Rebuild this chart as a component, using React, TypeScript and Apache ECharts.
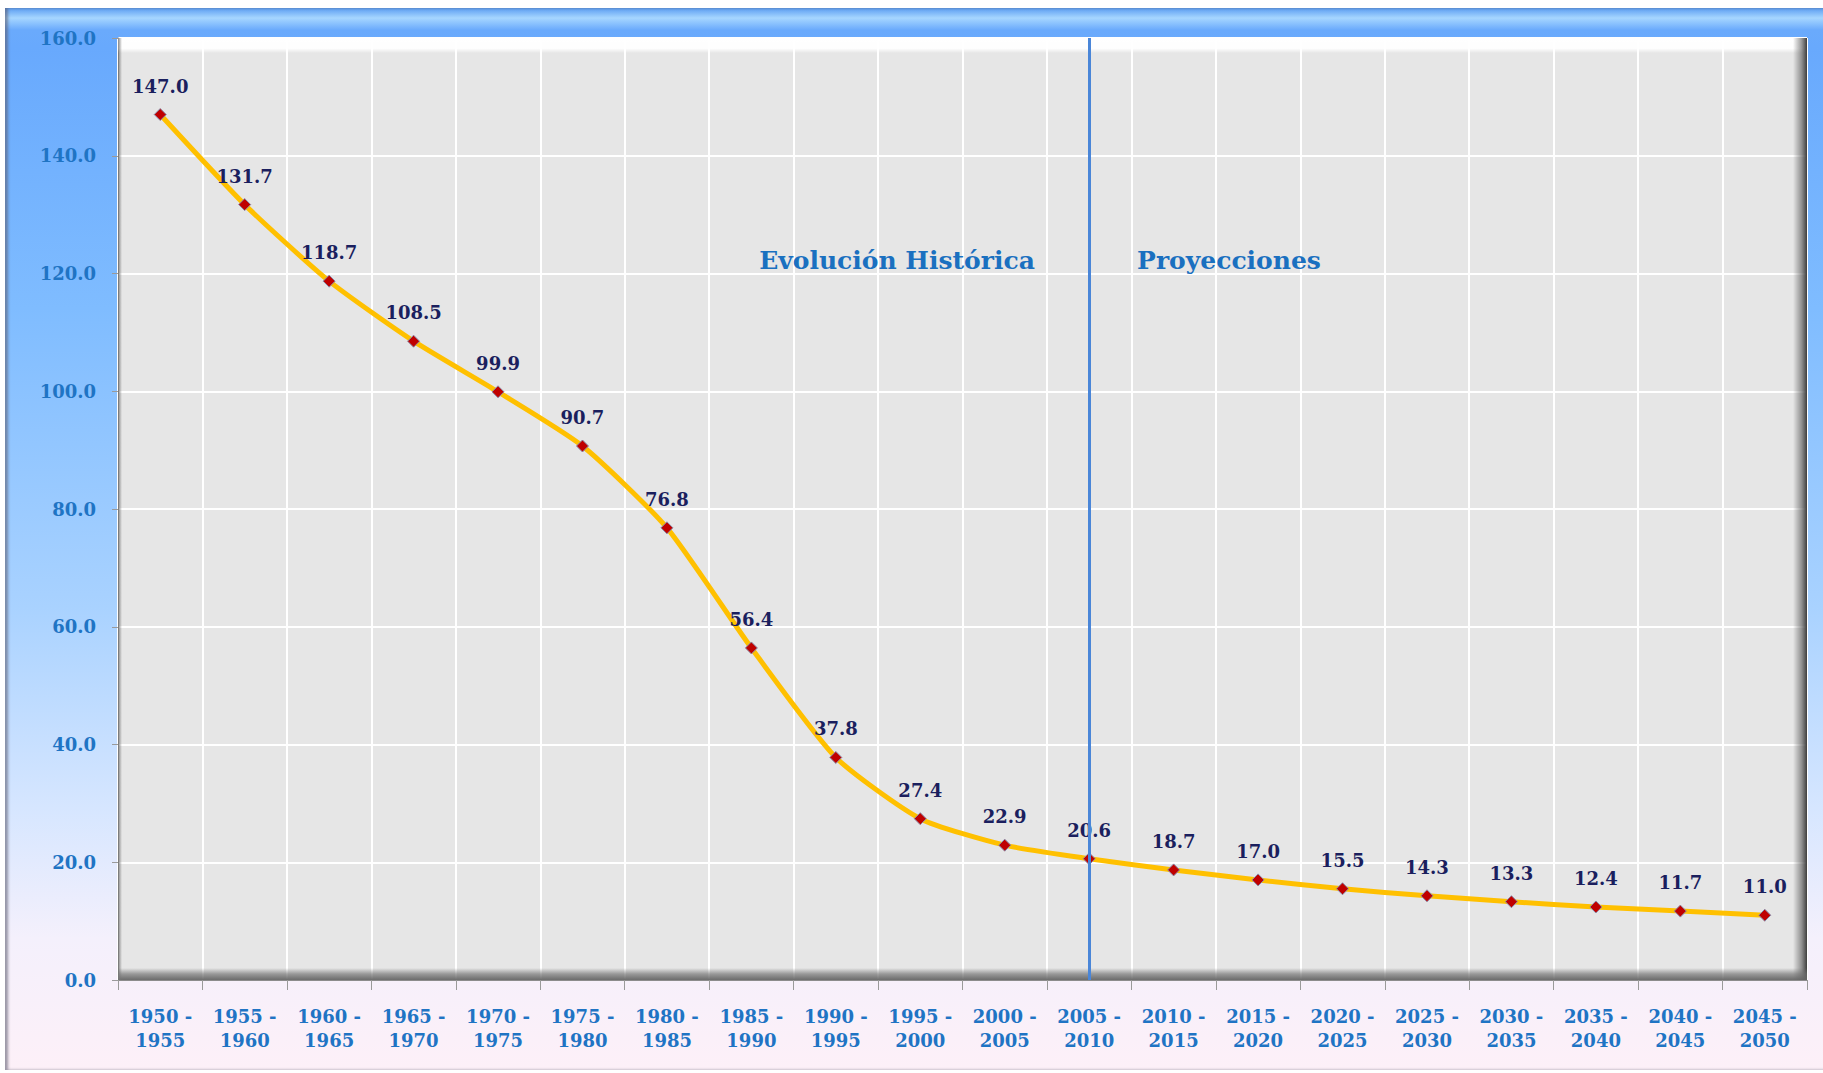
import React, { useEffect, useRef } from "react";
import * as echarts from "echarts";

const categories: string[] = [
  "1950 -\n1955", "1955 -\n1960", "1960 -\n1965", "1965 -\n1970", "1970 -\n1975",
  "1975 -\n1980", "1980 -\n1985", "1985 -\n1990", "1990 -\n1995", "1995 -\n2000",
  "2000 -\n2005", "2005 -\n2010", "2010 -\n2015", "2015 -\n2020", "2020 -\n2025",
  "2025 -\n2030", "2030 -\n2035", "2035 -\n2040", "2040 -\n2045", "2045 -\n2050",
];

const values: number[] = [
  147.0, 131.7, 118.7, 108.5, 99.9, 90.7, 76.8, 56.4, 37.8, 27.4,
  22.9, 20.6, 18.7, 17.0, 15.5, 14.3, 13.3, 12.4, 11.7, 11.0,
];

const dividerCategory = "2005 -\n2010";
const historicLabel = "Evolución Histórica";
const projectionLabel = "Proyecciones";

const yMin = 0;
const yMax = 160;
const yInterval = 20;

const SERIF = "'DejaVu Serif', 'Liberation Serif', serif";

export default function App() {
  const ref = useRef<HTMLDivElement>(null);

  useEffect(() => {
    if (!ref.current) return;
    const chart = echarts.init(ref.current, null, { renderer: "svg" });
    const gl = 118, gt = 38, gr = 16, gb = 93;
    const W = 1823, H = 1073;
    const pw = W - gl - gr;
    const ph = H - gt - gb;
    chart.setOption({
      animation: false,
      backgroundColor: "transparent",
      grid: {
        left: gl, top: gt, right: gr, bottom: gb,
        show: true, backgroundColor: "#e6e6e6", borderWidth: 0,
      },
      xAxis: {
        type: "category",
        data: categories,
        boundaryGap: true,
        axisLine: { show: true, lineStyle: { color: "#8c8c8c", width: 1 } },
        axisTick: { show: true, length: 10, lineStyle: { color: "#9a9a9a" } },
        splitLine: { show: true, lineStyle: { color: "#ffffff", width: 2 } },
        axisLabel: {
          color: "#1f74c4", fontFamily: SERIF, fontWeight: "bold", fontSize: 18,
          lineHeight: 24, margin: 24, interval: 0,
        },
      },
      yAxis: {
        type: "value",
        min: yMin, max: yMax, interval: yInterval,
        axisLine: { show: true, lineStyle: { color: "#8c8c8c", width: 1 } },
        axisTick: { show: true, length: 6, lineStyle: { color: "#9a9a9a" } },
        splitLine: { show: true, lineStyle: { color: "#ffffff", width: 2 } },
        axisLabel: {
          color: "#1f74c4", fontFamily: SERIF, fontWeight: "bold", fontSize: 18,
          margin: 22, formatter: (v: number) => v.toFixed(1),
        },
      },
      graphic: [
        {
          type: "rect", silent: true, z: 1,
          shape: { x: gl, y: gt, width: pw, height: 15 },
          style: {
            fill: new echarts.graphic.LinearGradient(0, 0, 0, 1, [
              { offset: 0, color: "rgba(255,255,255,1)" },
              { offset: 0.7, color: "rgba(255,255,255,0.95)" },
              { offset: 1, color: "rgba(255,255,255,0)" },
            ]),
          },
        },
        {
          type: "rect", silent: true, z: 1,
          shape: { x: gl + pw - 14, y: gt, width: 14, height: ph },
          style: {
            fill: new echarts.graphic.LinearGradient(0, 0, 1, 0, [
              { offset: 0, color: "rgba(90,90,90,0)" },
              { offset: 0.6, color: "rgba(90,90,90,0.6)" },
              { offset: 1, color: "rgba(60,60,60,1)" },
            ]),
          },
        },
        {
          type: "rect", silent: true, z: 1,
          shape: { x: gl, y: gt + ph - 12, width: pw, height: 12 },
          style: {
            fill: new echarts.graphic.LinearGradient(0, 0, 0, 1, [
              { offset: 0, color: "rgba(110,110,110,0)" },
              { offset: 0.5, color: "rgba(110,110,110,0.65)" },
              { offset: 1, color: "rgba(100,100,100,0.95)" },
            ]),
          },
        },
        {
          type: "rect", silent: true, z: 1,
          shape: { x: gl, y: gt, width: 4, height: ph },
          style: {
            fill: new echarts.graphic.LinearGradient(0, 0, 1, 0, [
              { offset: 0, color: "rgba(120,120,120,0.9)" },
              { offset: 1, color: "rgba(120,120,120,0)" },
            ]),
          },
        },
        {
          type: "text", silent: true, z: 5,
          x: 897, y: 260,
          style: {
            text: historicLabel, fill: "#1a70c0", font: `bold 25px ${SERIF}`,
            align: "center", verticalAlign: "middle",
          },
        },
        {
          type: "text", silent: true, z: 5,
          x: 1229, y: 260,
          style: {
            text: projectionLabel, fill: "#1a70c0", font: `bold 25px ${SERIF}`,
            align: "center", verticalAlign: "middle",
          },
        },
      ],
      series: [
        {
          type: "line",
          data: values,
          smooth: 0.2,
          z: 3,
          lineStyle: { color: "#ffc000", width: 5 },
          symbol: "diamond",
          symbolSize: 12,
          itemStyle: { color: "#c00000", borderColor: "#8a8aa8", borderWidth: 1 },
          label: {
            show: true, position: "top", distance: 13,
            color: "#1b1f5e", fontFamily: SERIF, fontWeight: "bold", fontSize: 18,
            formatter: (p: any) => Number(p.value).toFixed(1),
          },
          markLine: {
            silent: true, symbol: "none",
            label: { show: false },
            lineStyle: { color: "#4a86d8", width: 3, type: "solid" },
            data: [{ xAxis: dividerCategory }],
          },
        },
      ],
    });
    return () => chart.dispose();
  }, []);

  return (
    <div style={{ position: "absolute", left: 0, top: 0, width: 1823, height: 1073, background: "#ffffff" }}>
      <div
        style={{
          position: "absolute", left: 5, top: 8, width: 1818, height: 1062,
          background:
            "linear-gradient(to bottom, #5b9df2 0px, #a6d6ff 10px, #6aaafc 22px, #68a9fd 40px, #7fbcff 300px, #a9d2ff 600px, #d6e6ff 800px, #f4f0fc 930px, #fdf0f8 1062px)",
          boxShadow: "inset 3px 0 3px rgba(90,90,110,0.6)",
        }}
      />
      <div ref={ref} style={{ position: "absolute", left: 0, top: 0, width: 1823, height: 1073 }} />
    </div>
  );
}
